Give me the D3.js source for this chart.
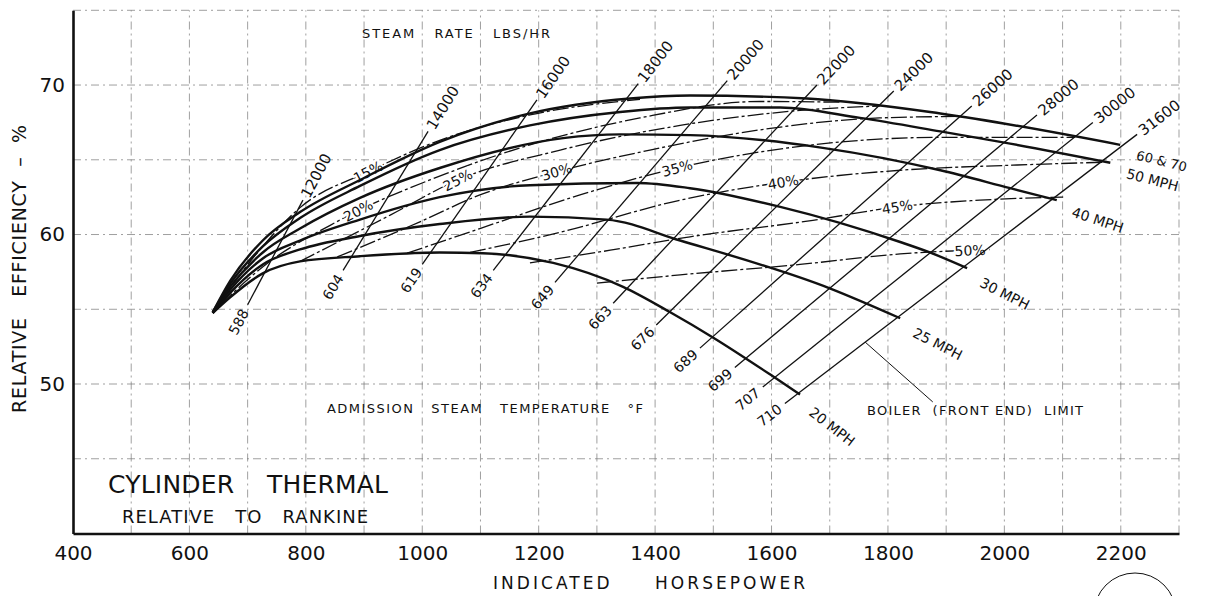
<!DOCTYPE html>
<html>
<head>
<meta charset="utf-8">
<script src="https://cdn.jsdelivr.net/npm/d3@7"></script>
<style>
body { margin: 0; background: #fff; }
svg { display: block; }
text { font-family: "DejaVu Sans", sans-serif; fill: #111; white-space: pre; }
</style>
</head>
<body>
<svg id="chart" width="1207" height="596"></svg>
<script>
// axis ticks
var xTicks = [400, 600, 800, 1000, 1200, 1400, 1600, 1800, 2000, 2200];
var yTicks = [50, 60, 70];
var gridHP = [500, 600, 700, 800, 900, 1000, 1100, 1200, 1300, 1400, 1500, 1600, 1700, 1800, 1900, 2000, 2100, 2200, 2300];
var gridEff = [45, 50, 55, 60, 65, 70, 75];

// speed curves: [indicated hp, relative efficiency %]
var speedNames = ["20 MPH", "25 MPH", "30 MPH", "40 MPH", "50 MPH", "60 & 70"];
var mph20 = [[640, 54.75], [670, 55.8], [726, 57.4], [790, 58.2], [893, 58.55], [1030, 58.8], [1104, 58.75], [1225, 58.1], [1345, 56.5], [1426, 54.8], [1500, 53.1], [1603, 50.5], [1649, 49.3]];
var mph25 = [[640, 54.75], [670, 56.1], [726, 58.0], [790, 59.0], [893, 59.9], [1030, 60.7], [1185, 61.2], [1317, 61.0], [1443, 59.6], [1700, 56.4], [1821, 54.4]];
var mph30 = [[640, 54.75], [670, 56.3], [726, 58.4], [790, 59.6], [893, 61.0], [1030, 62.5], [1185, 63.3], [1369, 63.45], [1460, 63.1], [1615, 61.85], [1821, 59.5], [1872, 58.8], [1936, 57.75]];
var mph40 = [[640, 54.8], [670, 56.5], [726, 58.8], [790, 60.4], [893, 62.45], [1030, 64.45], [1242, 66.45], [1340, 66.7], [1460, 66.65], [1688, 65.8], [1890, 64.3], [2010, 63.1], [2090, 62.3]];
var mph50 = [[640, 54.8], [670, 56.7], [726, 59.2], [790, 61.1], [893, 63.25], [1030, 65.65], [1185, 67.3], [1340, 68.2], [1460, 68.5], [1615, 68.5], [1752, 67.8], [1890, 66.9], [1993, 66.2], [2182, 64.8]];
var mph60_70 = [[640, 54.8], [670, 56.9], [726, 59.6], [790, 61.5], [893, 63.65], [1030, 66.2], [1185, 68.1], [1357, 69.1], [1460, 69.3], [1661, 69.1], [1890, 68.1], [2199, 66.0]];

// steam rate lines (lbs/hr) with admission steam temperature at the low end
var steamRates = ["12000", "14000", "16000", "18000", "20000", "22000", "24000", "26000", "28000", "30000", "31600"];
var admissionTemps = ["588", "604", "619", "634", "649", "663", "676", "689", "699", "707", "710"];
var steamLowHP = [700, 864, 1000, 1122, 1228, 1328, 1402, 1477, 1537, 1585, 1623];
var steamLowEff = [55.3, 57.6, 58.0, 57.6, 56.8, 55.4, 53.95, 52.4, 51.1, 49.8, 48.7];
var steamTopHP = [795, 1010, 1197, 1371, 1524, 1678, 1810, 1944, 2056, 2152, 2228];
var steamTopEff = [62.3, 66.9, 69.0, 70.1, 70.3, 70.0, 69.6, 68.6, 68.0, 67.5, 66.7];

// cut-off curves
var cutoffPct = ["15%", "20%", "25%", "30%", "35%", "40%", "45%", "50%"];
var cut15 = [[649, 55.3], [713, 58.6], [790, 61.8], [907, 64.2], [1030, 66.3], [1185, 68.0], [1374, 69.05]];
var cut20 = [[653, 55.3], [738, 58.2], [841, 60.6], [890, 61.6], [1013, 63.65], [1185, 66.0], [1374, 67.8], [1580, 68.9], [1718, 68.85]];
var cut25 = [[790, 58.2], [945, 61.3], [1061, 63.65], [1237, 65.65], [1443, 67.3], [1649, 68.3], [1786, 68.6]];
var cut30 = [[854, 58.5], [996, 60.85], [1099, 62.65], [1231, 64.2], [1391, 65.65], [1580, 67.0], [1786, 67.8], [1924, 67.9]];
var cut35 = [[974, 58.75], [1099, 60.4], [1271, 62.65], [1438, 64.45], [1649, 65.9], [1890, 66.5], [2121, 66.5]];
var cut40 = [[1082, 58.8], [1237, 60.15], [1443, 62.3], [1620, 63.5], [1821, 64.3], [2022, 64.65], [2182, 64.85]];
var cut45 = [[1185, 58.1], [1323, 58.95], [1460, 59.85], [1671, 60.95], [1816, 61.85], [1958, 62.3], [2101, 62.5]];
var cut50 = [[1300, 56.75], [1443, 57.3], [1649, 58.0], [1821, 58.7], [1975, 59.0]];
var cutoffLabelHP = [907, 890, 1061, 1231, 1438, 1620, 1816, 1941];

// boiler (front end) limit pointer
var boilerLeader = [[1761, 52.8], [1877, 48.8]];

var speedSeries = [mph20, mph25, mph30, mph40, mph50, mph60_70];
var cutoffSeries = [cut15, cut20, cut25, cut30, cut35, cut40, cut45, cut50];

var x = d3.scaleLinear().domain([400, 2300]).range([73, 1179]);
var y = d3.scaleLinear().domain([40, 75]).range([533.5, 10.3]);

var svg = d3.select("#chart");

// grid
var grid = svg.append("g").attr("stroke", "#777").attr("stroke-width", 0.7)
    .attr("stroke-dasharray", "8,4,2,4");
grid.selectAll(".gx").data(gridHP).enter().append("line")
    .attr("x1", function(d) { return x(d); }).attr("x2", function(d) { return x(d); })
    .attr("y1", y(40)).attr("y2", y(75));
grid.selectAll(".gy").data(gridEff).enter().append("line")
    .attr("x1", x(400)).attr("x2", x(2300))
    .attr("y1", function(d) { return y(d); }).attr("y2", function(d) { return y(d); });

// axes
var xAxis = svg.append("g").attr("transform", "translate(0," + y(40) + ")")
    .call(d3.axisBottom(x).tickValues(xTicks).tickSize(0).tickPadding(12).tickFormat(d3.format("d")));
var yAxis = svg.append("g").attr("transform", "translate(" + x(400) + ",0)")
    .call(d3.axisLeft(y).tickValues(yTicks).tickSize(0).tickPadding(8));
[xAxis, yAxis].forEach(function(a) {
    a.select(".domain").attr("stroke", "#111").attr("stroke-width", 2.6);
    a.selectAll("text").style("font-family", "DejaVu Sans, sans-serif")
        .style("font-size", "20px").attr("fill", "#111");
});

var line = d3.line()
    .x(function(d) { return x(d[0]); })
    .y(function(d) { return y(d[1]); })
    .curve(d3.curveMonotoneX);

function unit(a, b) {
    var dx = b[0] - a[0], dy = b[1] - a[1], l = Math.sqrt(dx * dx + dy * dy);
    return [dx / l, dy / l];
}
function deg(u) { return Math.atan2(u[1], u[0]) * 180 / Math.PI; }

// cut-off curves
svg.append("g").selectAll("path").data(cutoffSeries).enter().append("path")
    .attr("d", line).attr("fill", "none").attr("stroke", "#111")
    .attr("stroke-width", 1.3).attr("stroke-dasharray", "16,3,3,3");

// cut-off labels sitting on their curves (halo breaks only the dashed line)
cutoffSeries.forEach(function(s, i) {
    var hp = cutoffLabelHP[i], k = 1;
    while (k < s.length - 1 && s[k][0] < hp) k++;
    var a = s[k - 1], b = s[k], f = (hp - a[0]) / (b[0] - a[0]);
    var eff = a[1] + f * (b[1] - a[1]);
    var u = unit([x(a[0]), y(a[1])], [x(b[0]), y(b[1])]);
    svg.append("text").attr("transform", "translate(" + x(hp) + "," + y(eff) + ") rotate(" + deg(u) + ")")
        .attr("dy", "0.36em").attr("text-anchor", "middle").attr("font-size", 14)
        .attr("stroke", "#fff").attr("stroke-width", 4).attr("paint-order", "stroke")
        .text(cutoffPct[i]);
});

// steam rate lines
var steam = steamRates.map(function(r, i) {
    return { rate: r, temp: admissionTemps[i],
        lo: [steamLowHP[i], steamLowEff[i]], hi: [steamTopHP[i], steamTopEff[i]] };
});
svg.append("g").selectAll("line").data(steam).enter().append("line")
    .attr("x1", function(d) { return x(d.lo[0]); }).attr("y1", function(d) { return y(d.lo[1]); })
    .attr("x2", function(d) { return x(d.hi[0]); }).attr("y2", function(d) { return y(d.hi[1]); })
    .attr("stroke", "#111").attr("stroke-width", 1.3);

steam.forEach(function(d) {
    var a = [x(d.lo[0]), y(d.lo[1])], b = [x(d.hi[0]), y(d.hi[1])];
    var u = unit(a, b), ang = deg(u);
    var t = [b[0] + u[0] * 4, b[1] + u[1] * 4];
    svg.append("text").attr("transform", "translate(" + t[0] + "," + t[1] + ") rotate(" + ang + ")")
        .attr("dy", "0.36em").attr("font-size", 15).text(d.rate);
    var s = [a[0] - u[0] * 6, a[1] - u[1] * 6];
    svg.append("text").attr("transform", "translate(" + s[0] + "," + s[1] + ") rotate(" + ang + ")")
        .attr("dy", "0.36em").attr("text-anchor", "end").attr("font-size", 14).text(d.temp);
});

// speed curves
svg.append("g").selectAll("path").data(speedSeries).enter().append("path")
    .attr("d", line).attr("fill", "none").attr("stroke", "#111").attr("stroke-width", 2.4);

// speed labels just beyond each curve's end
speedSeries.forEach(function(s, i) {
    var e = [x(s[s.length - 1][0]), y(s[s.length - 1][1])];
    var p = [x(s[s.length - 2][0]), y(s[s.length - 2][1])];
    var u = unit(p, e), n = [-u[1], u[0]];
    var t = [e[0] + u[0] * 18 + n[0] * 7, e[1] + u[1] * 18 + n[1] * 7];
    svg.append("text").attr("transform", "translate(" + t[0] + "," + t[1] + ") rotate(" + (deg(u) + 4) + ")")
        .attr("dy", "0.36em").attr("font-size", i == 5 ? 13 : 14).text(speedNames[i]);
});

// boiler limit pointer
svg.append("path").attr("d", d3.line().x(function(d) { return x(d[0]); }).y(function(d) { return y(d[1]); })(boilerLeader))
    .attr("stroke", "#111").attr("stroke-width", 1).attr("fill", "none");

// annotations
function note(txt, px, py, size, len) {
    return svg.append("text").attr("x", px).attr("y", py).attr("font-size", size)
        .attr("textLength", len).attr("lengthAdjust", "spacing").text(txt);
}
note("STEAM   RATE   LBS/HR", 362, 38, 13, 188);
note("ADMISSION   STEAM   TEMPERATURE   \u00B0F", 327, 413, 13, 316);
note("BOILER  (FRONT END)  LIMIT", 867, 415, 13, 216);
note("CYLINDER    THERMAL", 108, 493, 25, 280);
note("RELATIVE   TO   RANKINE", 122, 523, 18, 246);
note("INDICATED     HORSEPOWER", 493, 589, 17, 312);

svg.append("text").attr("transform", "translate(26,269) rotate(-90)")
    .attr("text-anchor", "middle").attr("font-size", 19)
    .attr("textLength", 288).attr("lengthAdjust", "spacing")
    .text("RELATIVE   EFFICIENCY  \u2013  %");

// page stamp circle at bottom right
svg.append("circle").attr("cx", 1135).attr("cy", 614).attr("r", 41)
    .attr("fill", "none").attr("stroke", "#111").attr("stroke-width", 1);
</script>
</body>
</html>
